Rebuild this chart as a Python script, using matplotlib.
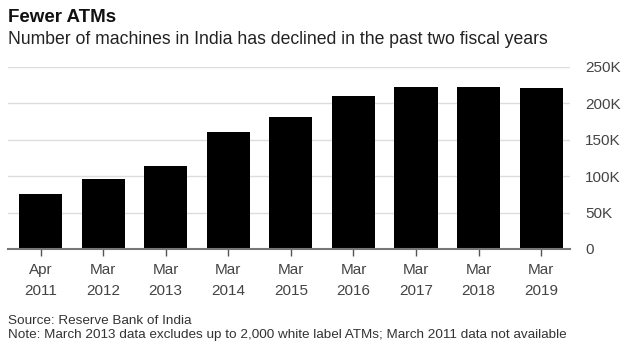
import matplotlib.pyplot as plt
import numpy as np

plt.rcParams['font.family'] = ['Liberation Sans', 'DejaVu Sans']

# ATM counts (thousands)
labels = ["Apr\n2011", "Mar\n2012", "Mar\n2013", "Mar\n2014", "Mar\n2015",
          "Mar\n2016", "Mar\n2017", "Mar\n2018", "Mar\n2019"]
atms = [75.5, 96, 114, 160.5, 181, 210, 222, 222, 221]
yticks = [0, 50, 100, 150, 200, 250]
ytick_labels = ["0", "50K", "100K", "150K", "200K", "250K"]

fig = plt.figure(figsize=(6.33, 3.56), dpi=100)
ax = fig.add_axes([8 / 633, 1 - 249 / 356, 562 / 633, 182 / 356])

x = np.arange(len(atms))
ax.bar(x, atms, width=0.69, color="black", zorder=3)

ax.set_xlim(-0.52, len(atms) - 1 + 0.46)
ax.set_ylim(0, 250)
ax.set_yticks(yticks)
ax.set_yticklabels(ytick_labels)
ax.yaxis.tick_right()
ax.tick_params(axis="y", length=0, pad=11, labelsize=11, labelcolor="#444444")
ax.grid(axis="y", color="#dddddd", linewidth=1, zorder=0)

ax.set_xticks(x)
ax.set_xticklabels(labels, linespacing=1.65)
ax.tick_params(axis="x", length=5, width=1, color="#555555", pad=5,
               labelsize=11, labelcolor="#444444")

for s in ["top", "left", "right"]:
    ax.spines[s].set_visible(False)
ax.spines["bottom"].set_color("#777777")
ax.spines["bottom"].set_linewidth(1.5)
ax.spines["bottom"].set_zorder(4)

fig.text(8 / 633, 1 - 17 / 356, "Fewer ATMs", fontsize=13.5, fontweight="bold",
         va="center", ha="left", color="#111111")
fig.text(8 / 633, 1 - 40 / 356,
         "Number of machines in India has declined in the past two fiscal years",
         fontsize=12.7, va="center", ha="left", color="#222222")
fig.text(8 / 633, 1 - 321 / 356, "Source: Reserve Bank of India",
         fontsize=9.7, va="center", ha="left", color="#333333")
fig.text(8 / 633, 1 - 335 / 356,
         "Note: March 2013 data excludes up to 2,000 white label ATMs; March 2011 data not available",
         fontsize=9.7, va="center", ha="left", color="#333333")

fig.savefig("out.png", dpi=100)
